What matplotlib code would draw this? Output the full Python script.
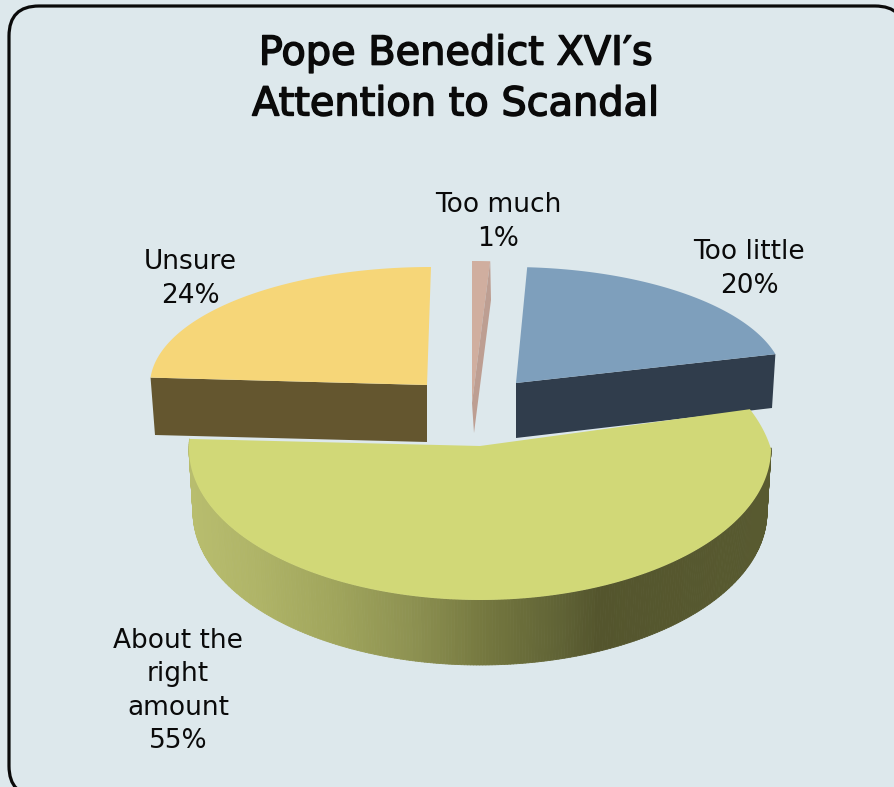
import numpy as np
import matplotlib
matplotlib.use('Agg')
import matplotlib.pyplot as plt
import matplotlib.patheffects as pe
from matplotlib.patches import FancyBboxPatch, Polygon
from matplotlib.collections import PolyCollection
from matplotlib.colors import LinearSegmentedColormap

title = "Pope Benedict XVI\u2032s\nAttention to Scandal"
names = ['Too much', 'Too little', 'About the\nright\namount', 'Unsure']
values = [1, 20, 55, 24]

bg = '#dde8ec'
top_cols = ['#d0ae9f', '#7e9fbc', '#d1d877', '#f6d678']
side_cols = ['#bd9e92', '#303d4c', '#55562f', '#64562f']
front_stops = [(0, '#b8bd6e'), (.115, '#afb467'), (.25, '#a0a55c'), (.38, '#8e9252'),
               (.515, '#74773f'), (.647, '#5f6235'), (.707, '#54552d'), (1, '#585a30')]

# slice angles, clockwise from 12 o'clock
edges = np.concatenate([[0], np.cumsum(values)]) * 360.0 / sum(values)


def rim(t1, t2, cx, cy, rx, ry_back, ry_front, n=120):
    t = np.radians(np.linspace(t1, t2, n))
    ry = np.where(np.cos(t) > 0, ry_back, ry_front)
    return np.column_stack([cx + rx * np.sin(t), cy - ry * np.cos(t)])


fig = plt.figure(figsize=(8.94, 7.87), dpi=100)
fig.patch.set_facecolor(bg)
ax = fig.add_axes([0, 0, 1, 1])
ax.set_xlim(0, 894)
ax.set_ylim(787, 0)
ax.axis('off')

# frame runs off the right and bottom of the picture
ax.add_patch(FancyBboxPatch((9, 6), 896, 790, boxstyle='round,pad=0,rounding_size=30',
                            fc=bg, ec='#0a0a0a', lw=2.3, zorder=1, clip_on=True))

# Unsure
r = rim(edges[3], edges[4], 431, 385, 281, 118, 118)
ax.add_patch(Polygon([r[0], (427, 385), (427, 442), (155, 435)], fc=side_cols[3], ec='none', zorder=2))
ax.add_patch(Polygon(np.vstack([[(427, 385)], r]), fc=top_cols[3], ec='none', zorder=3))

# Too little
r = rim(edges[1], edges[2], 510, 383, 274, 116, 116)
ax.add_patch(Polygon([(516, 383), r[-1], (772, 408), (516, 438)], fc=side_cols[1], ec='none', zorder=2))
ax.add_patch(Polygon(np.vstack([[(516, 383)], r]), fc=top_cols[1], ec='none', zorder=3))

# Too much
r = rim(edges[0], edges[1], 472, 378, 290, 117, 117)
ax.add_patch(Polygon(np.vstack([[(472, 403)], r]), fc=top_cols[0], ec='none', zorder=3))
ax.add_patch(Polygon([r[-1], (491, 300), (474, 433), (472, 403)], fc=side_cols[0], ec='none', zorder=4))

# About the right amount, front wall first then the top
top = rim(edges[2] + 14, edges[3], 480, 449, 291, 160, 151, n=300)
low = rim(edges[2] + 14, edges[3], 480, 512, 287, 160, 153, n=300)
strips = [np.array([top[i], top[i + 1], low[i + 1], low[i]]) for i in range(len(top) - 1)]
cmap = LinearSegmentedColormap.from_list('front', front_stops)
xpos = np.array([s[0, 0] for s in strips])
cols = cmap((xpos - 190) / 580.0)
ax.add_collection(PolyCollection(strips, facecolors=cols, edgecolors=cols, lw=0.6, zorder=5))

r = rim(edges[2], edges[3], 480, 449, 291, 160, 151, n=300)
# right corner of this slice sits a little further in than the ellipse
t = np.linspace(edges[2], edges[3], 300)
r[:, 0] -= 12 * np.clip((90 - t) / 14.4, 0, 1)
ax.add_patch(Polygon(np.vstack([[(480, 446)], r]), fc=top_cols[2], ec='none', zorder=6))

# text
stroke = [pe.withStroke(linewidth=1.1, foreground='#0a0a0a')]
ax.text(456, 79, title, ha='center', va='center', fontsize=28.7,
        family='DejaVu Sans', linespacing=1.35, color='#0a0a0a', zorder=7,
        path_effects=stroke)
label_pos = [(498, 222), (749, 269), (178, 691), (190, 279)]
for name, val, (x, y) in zip(names, values, label_pos):
    ax.text(x, y, '%s\n%d%%' % (name, val), ha='center', va='center', fontsize=19,
            family='DejaVu Sans', linespacing=1.38, color='#0a0a0a', zorder=7)

fig.savefig('out.png', dpi=100, facecolor=bg)
